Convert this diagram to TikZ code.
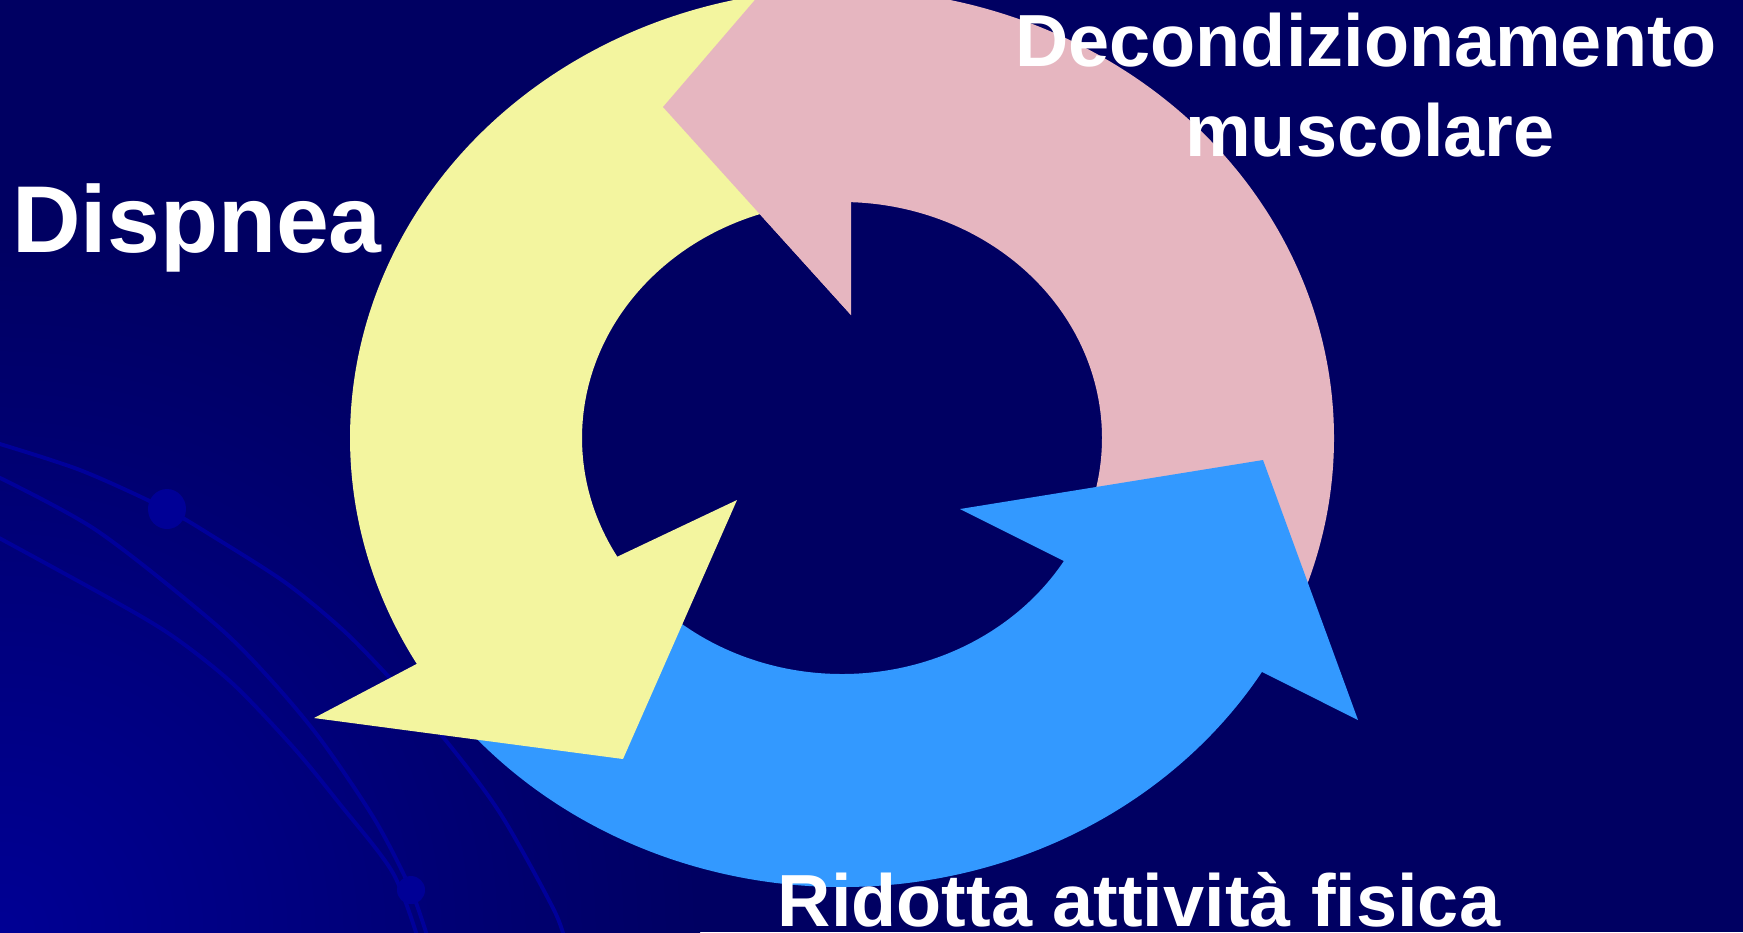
\documentclass[tikz,border=0pt]{standalone}
\usepackage{fontspec}
\setmainfont{Liberation Sans}
\usetikzlibrary{calc}
\definecolor{bgnavy}{HTML}{000062}
\definecolor{bgglow}{HTML}{000094}
\definecolor{linenavy}{HTML}{00009A}
\definecolor{dotnavy}{HTML}{000096}
\definecolor{arrowyellow}{HTML}{F3F59F}
\definecolor{arrowpink}{HTML}{E6B6C0}
\definecolor{arrowblue}{HTML}{3399FF}
\begin{document}
\begin{tikzpicture}[x=0.01cm,y=0.01cm,
  decoline/.style={draw=linenavy,line width=1.1pt},
  decodot/.style={fill=dotnavy},
  yellowshape/.style={fill=arrowyellow},
  pinkshape/.style={fill=arrowpink},
  blueshape/.style={fill=arrowblue},
  biglabel/.style={text=white,inner sep=0pt,anchor=base,font=\fontsize{27}{32}\selectfont\bfseries},
  label/.style={text=white,inner sep=0pt,anchor=base,font=\fontsize{21}{25}\selectfont\bfseries}]
\useasboundingbox (0,0) rectangle (1743,-932);
\begin{scope}
\clip (0,0) rectangle (1743,-932);
\fill[bgnavy] (0,0) rectangle (1743,-932);
\shade[inner color=bgglow,outer color=bgnavy] (0,-932) circle (700);
% decorative lines
\draw[decoline] plot[smooth] coordinates {(-10,-441) (80,-470) (166,-509) (214,-537) (286,-583) (343,-630) (389,-677) (443,-737) (500,-813) (554,-910) (566,-945)};
\draw[decoline] plot[smooth] coordinates {(-10,-473) (96,-530) (214,-623) (271,-680) (321,-740) (375,-820) (411,-890) (430,-945)};
\draw[decoline] plot[smooth] coordinates {(-10,-533) (107,-597) (171,-635) (232,-683) (293,-747) (339,-803) (393,-873) (420,-945)};
\fill[decodot] (167,-509) ellipse (19 and 20);
\fill[decodot] (411,-890) ellipse (14 and 14);
% ring centre
\coordinate (C) at (842,-438);
% pink arrow
\fill[pinkshape] ($(C)+(-25:492 and 449)$) arc[start angle=-25,end angle=88.8,x radius=492,y radius=449]
  -- (851,112) -- (663,-107) -- (851,-315) -- ($(C)+(88.8:260 and 236)$)
  arc[start angle=88.8,end angle=-25,x radius=260,y radius=236] -- cycle;
% blue arrow
\fill[blueshape] ($(C)+(215:492 and 449)$) arc[start angle=215,end angle=328.6,x radius=492,y radius=449]
  -- (1358,-720) -- (1263,-460) -- (960,-509) -- ($(C)+(328.6:260 and 236)$)
  arc[start angle=328.6,end angle=215,x radius=260,y radius=236] -- cycle;
% yellow arrow
\fill[yellowshape] ($(C)+(96:492 and 449)$) arc[start angle=96,end angle=210.2,x radius=492,y radius=449]
  -- (314,-718) -- (623,-759) -- (737,-500) -- ($(C)+(210.2:260 and 236)$)
  arc[start angle=210.2,end angle=96,x radius=260,y radius=236] -- cycle;
% pink head over yellow tail
\fill[pinkshape] (851,112) -- (663,-107) -- (851,-315) -- cycle;
\end{scope}
% labels
\node[biglabel] (dispnea) at (197,-252) {Dispnea};
\node[label] (decond) at (1366,-66) {Decondizionamento};
\node[label] (musc) at (1370,-156) {muscolare};
\node[label] (ridotta) at (1139,-926) {Ridotta attività fisica};
\end{tikzpicture}
\end{document}
